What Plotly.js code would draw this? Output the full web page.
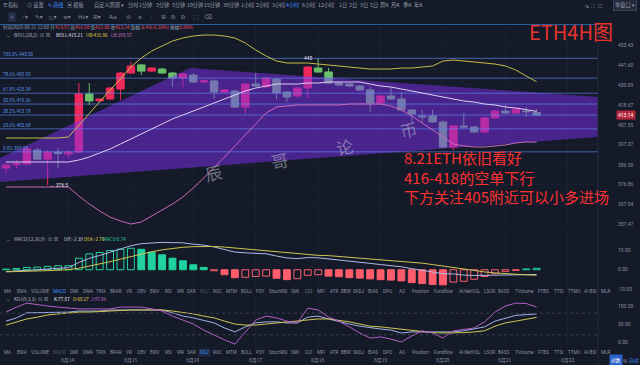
<!DOCTYPE html>
<html><head><meta charset="utf-8">
<script src="https://cdn.plot.ly/plotly-3.0.1.min.js"></script>
<style>html,body{margin:0;padding:0;background:#151a28;overflow:hidden}#chart{width:640px;height:365px}</style>
</head><body><div id="chart"></div>
<script>
// ---------- data ----------
const openP  = [385.1,386.9,387.2,394.4,389.7,393.4,392.4,393.4,424.9,421.0,422.1,427.7,436.9,441.6,438.0,439.2,436.9,434.0,435.7,431.7,432.3,426.0,426.6,417.6,430.6,428.9,433.4,426.0,423.8,428.3,439.8,437.5,431.1,430.6,429.4,427.2,419.9,423.8,422.1,416.0,412.7,412.7,409.4,396.0,407.2,406.7,404.0,411.6,415.4,414.3,415.4,414.6];
const highP  = [387.7,389.2,396.0,395.5,394.4,395.5,394.4,431.1,431.1,422.6,429.0,437.5,443.3,442.2,440.4,440.0,437.5,437.0,436.9,433.0,433.0,427.7,427.2,431.1,436.9,434.6,434.0,426.6,428.9,441.0,445.5,439.8,431.7,431.1,430.0,428.9,424.3,428.3,426.0,416.5,416.0,416.0,410.0,407.8,414.3,407.2,412.1,416.0,418.7,417.1,417.6,416.58];
const lowP   = [382.5,385.1,386.6,389.2,376.5,385.1,390.3,392.9,418.7,420.4,421.5,421.5,436.3,435.7,437.5,436.3,428.9,428.9,431.1,431.1,422.1,425.5,417.1,413.8,429.0,428.3,422.1,420.4,422.6,422.6,436.9,430.6,429.4,428.9,426.6,414.9,419.3,421.5,415.4,409.4,408.9,408.9,395.5,394.4,405.6,403.5,403.5,411.0,413.8,413.8,412.1,412.88];
const closeP = [386.6,387.3,395.0,389.7,393.4,392.6,393.4,424.9,421.0,422.1,428.3,436.9,441.0,438.0,439.8,436.9,434.0,436.3,431.7,432.3,426.0,427.2,417.6,430.6,429.4,434.0,425.5,423.2,428.3,440.4,437.5,431.1,430.0,429.4,427.2,419.9,423.8,422.1,416.0,413.8,412.2,409.4,396.0,407.2,406.7,404.0,411.6,415.4,414.3,416.5,415.0,413.14];

const bollUB  = [400.79,400.79,400.79,400.79,400.79,400.79,401.32,407.77,413.77,420.40,427.15,433.43,440.38,445.67,449.83,452.83,455.84,457.66,458.88,459.49,459.49,458.88,457.66,454.64,450.43,446.86,443.90,442.72,442.72,442.72,442.14,441.55,440.96,440.38,439.79,439.21,439.21,439.21,439.79,439.79,440.38,440.96,443.90,444.49,443.90,443.31,442.72,442.14,440.96,438.63,435.15,431.86];
const bollMid = [388.23,388.23,388.23,388.23,388.23,388.23,388.23,389.26,390.81,392.89,394.98,397.62,400.26,402.92,405.61,408.31,411.04,413.22,415.42,417.63,419.85,422.08,424.33,426.58,428.28,429.42,430.56,430.56,430.56,431.14,431.14,431.71,431.71,431.71,431.71,430.56,429.42,428.85,427.72,426.58,425.45,424.33,423.20,422.08,420.96,420.40,419.29,418.74,417.63,417.08,415.97,415.21];
const bollLB  = [375.55,375.55,375.55,375.55,375.55,375.55,375.55,371.10,367.18,363.78,360.89,358.98,357.55,358.51,361.37,364.26,367.18,370.60,375.05,380.07,385.15,390.81,396.56,402.39,408.85,414.32,417.63,418.18,418.74,418.74,418.74,418.74,418.74,419.29,419.29,419.29,419.29,418.18,415.97,412.68,408.85,405.07,401.32,397.62,396.56,396.03,396.03,396.56,397.09,398.15,398.68,398.57];

const macdHist = [0.3,0.6,1.15,1.3,1.7,2.0,2.0,5.8,8.0,8.7,9.7,10.3,10.8,10.3,8.8,7.5,5.8,4.5,2.5,1.2,-0.5,-2.5,-4.0,-3.8,-3.4,-3.2,-4.3,-5.0,-4.5,-2.8,-2.5,-3.2,-3.5,-4.0,-4.2,-4.6,-5.0,-5.2,-5.6,-6.5,-7.0,-7.4,-7.6,-6.2,-5.8,-4.8,-3.4,-2.0,-0.8,-0.3,0.4,0.74];
const macdDIF  = [-0.91,-0.69,-0.27,-0.03,0.38,0.78,1.03,3.66,5.76,7.19,8.91,10.49,12.09,13.13,13.48,13.77,13.64,13.56,12.87,12.37,11.46,10.15,8.90,8.52,8.30,8.00,6.91,5.94,5.62,6.12,6.0,5.5,4.95,4.3,3.8,3.2,2.6,2.1,1.5,0.55,-0.2,-1.1,-2.0,-2.1,-2.7,-2.9,-2.8,-2.6,-2.4,-2.45,-2.35,-2.39];
const macdDEA  = [-1.06,-0.99,-0.84,-0.68,-0.47,-0.22,0.03,0.76,1.76,2.84,4.06,5.34,6.69,7.98,9.08,10.02,10.74,11.31,11.62,11.77,11.71,11.40,10.90,10.42,10.00,9.60,9.06,8.44,7.87,7.52,7.25,7.1,6.7,6.3,5.9,5.5,5.1,4.7,4.3,3.8,3.3,2.6,1.8,1.0,0.2,-0.5,-1.1,-1.6,-2.0,-2.3,-2.55,-2.76];

const kdjK = [58,67,81,81,82,83,83,86,86,86,89,89,89,89,89,89,81,72,67,61,53,39,28,42,53,56,56,53,53,69,72,64,56,50,44,39,36,33,25,28,28,28,28,28,31,36,42,58,67,74,76,77.87];
const kdjD = [47,56,64,69,75,78,81,83,83,85,86,87,89,89,89,89,86,83,78,72,67,58,50,47,47,50,53,56,58,61,64,64,61,56,50,44,42,39,35,31,28,26,25,25,26,28,31,44,53,58,64,68.27];
const kdjJ = [83,97,108,103,100,97,94,92,92,92,92,97,97,97,92,86,72,61,50,33,19,6,-6,28,61,72,67,58,53,94,89,69,58,42,25,11,14,8,0,17,31,25,11,31,36,39,56,83,100,108,107,97.06];
const kdjLevels = [80, 20];

const fibPct   = ['100.0%','78.6%','61.8%','50.0%','38.2%','23.6%','0.0%'];
const fibLevel = [445.50,433.93,425.34,419.26,413.19,405.68,393.50];

const priceTicks = [453.43,441.60,430.09,418.67,407.55,397.37,386.50,376.86,367.04,357.47];
const macdTicks = [10,0,-10];
const kdjTicks = [100,50,0];

const dayLabels = ['8月14','8月15','8月16','8月17','8月18','8月19','8月20','8月21','8月22'];
const dayIdx    = [6,12,18,24,30,36,42,48,54];

// hand-drawn wedge (time index, price)
const wedgeIdx   = [-0.58,17.7,56.9,56.9,-0.58];
const wedgePrice = [390.3,439.8,423.2,401.3,378.1];

const lastPrice = 413.14;
const noteLines = ['8.21ETH依旧看好','416-418的空单下行','下方关注405附近可以小多进场'];

// ---------- build ----------
const W = 640, H = 365;
const N = closeP.length;
const idx = Array.from({length:N}, (_, i) => i);
const X0 = -0.58, X1 = 56.9;
const py = y => 1 - y / H;
const L10 = Math.log10;

const traces = [];
traces.push({type:'scatter', mode:'lines', x:wedgeIdx, y:wedgePrice, fill:'toself',
  fillcolor:'rgba(125,45,240,0.5)', line:{width:0, color:'rgba(0,0,0,0)'}, hoverinfo:'skip'});
const fx = [], fy = [];
fibLevel.forEach(v => { fx.push(X0, X1, null); fy.push(v, v, null); });
traces.push({type:'scatter', mode:'lines', x:fx, y:fy, line:{color:'rgba(95,140,255,0.62)', width:1}, hoverinfo:'skip'});
traces.push({type:'candlestick', x:idx, open:openP, high:highP, low:lowP, close:closeP,
  increasing:{line:{color:'#f0285a', width:1}, fillcolor:'#f0285a'},
  decreasing:{line:{color:'#6cbf6a', width:1}, fillcolor:'#6cbf6a'},
  whiskerwidth:0, hoverinfo:'skip'});
traces.push({type:'scatter', mode:'lines', x:idx, y:bollUB,  line:{color:'#c4bc48', width:1}, hoverinfo:'skip'});
traces.push({type:'scatter', mode:'lines', x:idx, y:bollMid, line:{color:'#dccff2', width:1}, hoverinfo:'skip'});
traces.push({type:'scatter', mode:'lines', x:idx, y:bollLB,  line:{color:'#c86ab8', width:1}, hoverinfo:'skip'});

const fills = [], lines = [];
macdHist.forEach((v, i) => {
  const prev = i > 0 ? macdHist[i-1] : 0;
  const col = v >= 0 ? '#20d39e' : '#ff5d6c';
  const hollow = v >= 0 ? (v >= prev) : (Math.abs(v) < Math.abs(prev));
  fills.push(hollow ? 'rgba(0,0,0,0)' : col);
  lines.push(col);
});
traces.push({type:'bar', x:idx, y:macdHist, yaxis:'y2', width:0.66,
  marker:{color:fills, line:{color:lines, width:1}}, hoverinfo:'skip'});
traces.push({type:'scatter', mode:'lines', x:idx, y:macdDIF, yaxis:'y2', line:{color:'#aeb9e6', width:1}, hoverinfo:'skip'});
traces.push({type:'scatter', mode:'lines', x:idx, y:macdDEA, yaxis:'y2', line:{color:'#cfc652', width:1}, hoverinfo:'skip'});

traces.push({type:'scatter', mode:'lines', x:idx, y:kdjK, yaxis:'y3', line:{color:'#9fb3e6', width:1}, hoverinfo:'skip'});
traces.push({type:'scatter', mode:'lines', x:idx, y:kdjD, yaxis:'y3', line:{color:'#cfc652', width:1}, hoverinfo:'skip'});
traces.push({type:'scatter', mode:'lines', x:idx, y:kdjJ, yaxis:'y3', line:{color:'#b55ec8', width:1}, hoverinfo:'skip'});

// ---------- annotations ----------
const ann = [];
const CJK = 'Noto Sans CJK SC, Roboto, sans-serif';
function T(x, y, text, o) {
  o = o || {};
  ann.push({xref:'paper', yref:'paper', x:x/W, y:py(y), text:text, showarrow:false,
    xanchor:o.xanchor||'left', yanchor:o.yanchor||'middle', textangle:o.angle||0, align:'left',
    bgcolor:o.bg||'rgba(0,0,0,0)', bordercolor:o.bc||'rgba(0,0,0,0)', borderpad:o.pad===undefined?0:o.pad,
    font:{size:o.size||5.2, color:o.color||'#9aa0b0', family:o.family||CJK}});
}
const BLUE = '#3d8bfd';
T(2,5,'☰ 指标'); T(26,5,'⊙ 设置'); T(47,5,'✎ 画线',{color:BLUE}); T(66,5,'▣ 模板'); T(93,5,'自定义周期 ▾');
const periods = ['分时','1分钟','3分钟','5分钟','10分钟','15分钟','30分钟','1小时','2小时','3小时','4小时','6小时','12小时','1日','2日','3日','5日','周K','月K','季K','年K'];
const periodX = [127,138,155,171,186,203,222,240,255,271,285,301,317,338,348,359,369,379,390,402,413];
periods.forEach((p, i) => T(periodX[i], 5, p, {color: p === '4小时' ? BLUE : '#9aa0b0'}));
T(584,5,'⅛  ⛶  ☐');
T(613,5,'单窗口 ▾',{bg:'#242a3b', bc:'#3a4258', pad:1});
const tools = ['⌖','⟋▾','✎▾','◺▾','≡▾','Hs▾','⊞▾','Aa','⊘','⌀','⫶','⊞','⧉','⧉','⬚','⌫'];
const toolX = [8,20,34,48,62,77,92,108,125,137,150,160,170,180,192,203];
tools.forEach((t, i) => T(toolX[i], 17, t, {size:5.8, color:'#7f8596', family:'DejaVu Sans', bg: i===0?'#26314c':'rgba(0,0,0,0)', pad: i===0?1:0}));
const R = s => '<span style="color:#f0506e">' + s + '</span>';
T(2,27,'时间2020-08-21 12:00 开' + R('413.57') + ' 高' + R('416.58') + ' 低' + R('412.88') + ' 收' + R('413.14') + ' 涨幅' + R('-0.43(-0.10%)') + ' 振幅' + R('0.98%'), {size:4.7});
const LS = 4.6;
T(5,35,'⌄',{size:LS}); T(13,35,'BOLL(20,2)',{size:LS,color:'#b8bdca'}); T(39,35,'⊡ ☒',{family:'DejaVu Sans',size:5});
T(55,35,'BOLL:415.21',{size:LS,color:'#e4e6ee'}); T(85,35,'UB:431.86',{size:LS,color:'#e0d84a'}); T(110,35,'LB:398.57',{size:LS,color:'#d36bc0'});
T(5,239,'⌄',{size:LS}); T(13,239,'MACD(12,26,9)',{size:LS,color:'#b8bdca'}); T(47,239,'⊡ ☒',{family:'DejaVu Sans',size:5});
T(63,239,'DIF:-2.39',{size:LS,color:'#c8cde0'}); T(83,239,'DEA:-2.76',{size:LS,color:'#e0d84a'}); T(102,239,'MACD:0.74',{size:LS,color:'#20d39e'});
T(5,299,'⌄',{size:LS}); T(13,299,'KDJ(9,3,3)',{size:LS,color:'#b8bdca'}); T(37,299,'⊡ ☒',{family:'DejaVu Sans',size:5});
T(53,299,'K:77.87',{size:LS,color:'#e4e6ee'}); T(72,299,'D:68.27',{size:LS,color:'#e0d84a'}); T(90,299,'J:97.06',{size:LS,color:'#c46ad8'});
const tabs = ['MA','EMA','VOLUME','MACD','DMI','DMA','TRIX','BRAR','VR','OBV','EMV','RSI','WR','SAR','KDJ','ROC','MTM','BOLL','PSY','StochRSI','SMI','CCI','MFI','ATR','BBW','SKDJ','BIAS','DPO','AO','Position','Fundflow','AI-NetVOL','LSUR','BASS','TVolume','FTBS','TTSI','TTMU','AI-BSI','MLR'];
const tabX = [7,22,40,59,74,88,101,116,129,141,155,168,180,191,204,217,231,246,260,278,295,308,321,334,346,359,373,387,402,420,443,470,489,504,524,543,558,574,590,605];
tabs.forEach((t, i) => {
  T(tabX[i], 291, t, {xanchor:'center', family:'Roboto', size:4.6, color: t==='MACD' ? BLUE : (t==='KDJ' ? '#4d5366' : '#8a90a2')});
  T(tabX[i], 352, t, {xanchor:'center', family:'Roboto', size:4.6, color: t==='KDJ' ? BLUE : (t==='MACD' ? '#4d5366' : '#8a90a2'), bg: t==='KDJ' ? '#1f2b45' : 'rgba(0,0,0,0)', pad: t==='KDJ'?1:0});
});
dayLabels.forEach((d, i) => ann.push({xref:'x', yref:'paper', x:dayIdx[i], y:py(360), text:d, showarrow:false, xanchor:'center', yanchor:'middle', font:{size:5, color:'#8a90a2', family:CJK}}));
T(609,360,'对数',{bg:'#2a62c9', color:'#ffffff', pad:1, size:4.8}); T(622,360,'%',{size:4.8}); T(628,360,'自动',{color:BLUE, size:4.8});
fibLevel.forEach((v, i) => ann.push({xref:'paper', yref:'y', x:2/W, y:L10(v), text:fibPct[i] + ' ' + v.toFixed(2), showarrow:false, xanchor:'left', yanchor:'bottom', borderpad:0, font:{size:4.6, color:'#5a8fe0', family:'Roboto'}}));
const hi = Math.max(...highP), lo = Math.min(...lowP);
ann.push({xref:'x', yref:'y', x:highP.indexOf(hi)-1, y:L10(hi), text:String(Math.floor(hi)), showarrow:false, xanchor:'center', yanchor:'middle', font:{size:4.8, color:'#e4e6ee', family:'Roboto'}});
ann.push({xref:'x', yref:'y', x:lowP.indexOf(lo), y:L10(lo), text:'← ' + lo.toFixed(1), showarrow:false, xanchor:'left', yanchor:'middle', font:{size:4.8, color:'#e4e6ee', family:'Roboto'}});
ann.push({xref:'paper', yref:'y', x:616/W, y:L10(lastPrice), text:lastPrice.toFixed(2), showarrow:false, xanchor:'left', yanchor:'middle', bgcolor:'#b3263c', borderpad:1, font:{size:5, color:'#ffffff', family:'Roboto'}});
[['辰',213,173],['哥',279,160],['论',344,146],['币',408,129]].forEach(w => T(w[1], w[2], w[0], {xanchor:'center', size:17, color:'rgba(190,190,205,0.55)', angle:-12}));
T(528,32,'ETH4H图',{size:20, color:'#e5332d'});
T(403,177,noteLines.join('<br>'),{size:15, color:'#ff3030'});

const shapes = [
  {type:'line', xref:'paper', yref:'paper', x0:0, x1:598/W, y0:py(24.5), y1:py(24.5), line:{color:'#2b5d9e', width:1}},
  {type:'line', xref:'paper', yref:'paper', x0:598/W, x1:598/W, y0:py(22), y1:0, line:{color:'#262b3c', width:1}},
];
kdjLevels.forEach(v => shapes.push({type:'line', xref:'paper', yref:'y3', x0:0, x1:598/W, y0:v, y1:v, line:{color:'#3a3f52', width:1, dash:'dot'}}));

const axFont = {size:5, color:'#8b90a0', family:'Roboto'};
const yCommon = {side:'right', anchor:'x', tickfont:axFont, ticks:'', ticklabelstandoff:19, zeroline:false, showline:false};
const layout = {
  width:W, height:H, margin:{l:0, r:0, t:0, b:0},
  paper_bgcolor:'#151a28', plot_bgcolor:'#151a28', showlegend:false,
  boxgap:0.2, boxgroupgap:0.1, bargap:0,
  xaxis:{domain:[0, 598/W], range:[X0, X1], tickvals:dayIdx, showticklabels:false, ticks:'', showgrid:true, gridcolor:'#1b2031', zeroline:false, showline:false, rangeslider:{visible:false}, anchor:'y3', fixedrange:true},
  yaxis:Object.assign({domain:[py(231), py(22)], type:'log', range:[L10(354.25), L10(467.5)],
    tickvals:priceTicks, ticktext:priceTicks.map(v => v.toFixed(2)), showgrid:true, gridcolor:'#1a1f2f'}, yCommon),
  yaxis2:Object.assign({domain:[py(290), py(232)], range:[-10.2, 19],
    tickvals:macdTicks, ticktext:macdTicks.map(v => v.toFixed(2)), showgrid:false}, yCommon),
  yaxis3:Object.assign({domain:[py(350), py(296)], range:[-22.22, 127.78],
    tickvals:kdjTicks, ticktext:kdjTicks.map(v => v.toFixed(2)), showgrid:false}, yCommon),
  annotations:ann, shapes:shapes
};
traces.forEach(t => { t.showlegend = false; });
Plotly.newPlot('chart', traces, layout, {staticPlot:true, displayModeBar:false});
</script>
</body></html>
